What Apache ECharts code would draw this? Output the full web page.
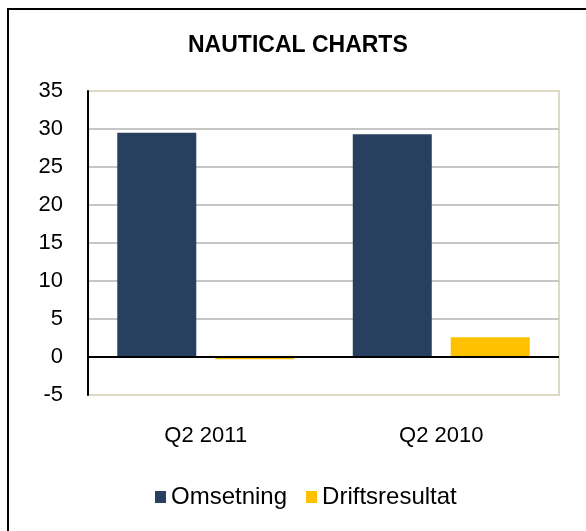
<!DOCTYPE html>
<html>
<head>
<meta charset="utf-8">
<script src="https://cdn.jsdelivr.net/npm/echarts@6/dist/echarts.min.js"></script>
<style>
  html, body { margin: 0; padding: 0; background: #fff; }
  #main { width: 586px; height: 531px; }
</style>
</head>
<body>
<div id="main"></div>
<script>
// data
var categories = ['Q2 2011', 'Q2 2010'];
var omsetning = [29.5, 29.3];
var driftsresultat = [-0.3, 2.6];
var yTicks = { min: -5, max: 35, interval: 5 };

var font = '"Liberation Sans", Arial, sans-serif';
var gridGray = '#C6C6C6';
var frameBeige = '#DDD9C3';

var myChart = echarts.init(document.getElementById('main'));

// first and last split lines are the plot frame, so they take the beige colour
var splitColors = [frameBeige];
for (var v = yTicks.min + yTicks.interval; v < yTicks.max; v += yTicks.interval) {
    splitColors.push(gridGray);
}
splitColors.push(frameBeige);

var option = {
    backgroundColor: '#ffffff',
    animation: false,
    title: {
        text: 'NAUTICAL CHARTS',
        left: 183,
        top: 29,
        textStyle: { fontFamily: font, fontSize: 23, fontWeight: 'bold', color: '#000' }
    },
    graphic: [{
        type: 'polyline',
        shape: { points: [[8, 600], [8, 9], [620, 9]] },
        style: { stroke: '#000', lineWidth: 2, fill: null },
        silent: true
    }],
    legend: {
        bottom: 17,
        left: 150,
        itemWidth: 11,
        itemHeight: 12,
        itemGap: 19,
        icon: 'rect',
        textStyle: { fontFamily: font, fontSize: 24, color: '#000' },
        data: ['Omsetning', 'Driftsresultat']
    },
    grid: {
        left: 88,
        right: 27,
        top: 91,
        bottom: 136,
        show: true,
        borderColor: frameBeige,
        borderWidth: 2,
        backgroundColor: '#fff'
    },
    xAxis: {
        type: 'category',
        data: categories,
        axisLine: { show: false, onZero: false },
        axisTick: { show: false },
        axisLabel: { margin: 30, fontFamily: font, fontSize: 22, color: '#000' }
    },
    yAxis: {
        type: 'value',
        min: yTicks.min,
        max: yTicks.max,
        interval: yTicks.interval,
        axisLine: { show: true, lineStyle: { color: '#000', width: 2 } },
        axisTick: { show: false },
        axisLabel: { margin: 25, fontFamily: font, fontSize: 22, color: '#000' },
        splitLine: { show: true, lineStyle: { color: splitColors, width: 2 } }
    },
    series: [{
        name: 'Omsetning',
        type: 'bar',
        data: omsetning,
        barWidth: 79,
        barGap: '24%',
        itemStyle: { color: '#284060' },
        markLine: {
            silent: true,
            symbol: 'none',
            label: { show: false },
            lineStyle: { color: '#000', width: 2, type: 'solid' },
            data: [{ yAxis: 0 }]
        }
    }, {
        name: 'Driftsresultat',
        type: 'bar',
        data: driftsresultat,
        barWidth: 79,
        itemStyle: { color: '#FFC000' }
    }]
};

myChart.setOption(option);
</script>
</body>
</html>
